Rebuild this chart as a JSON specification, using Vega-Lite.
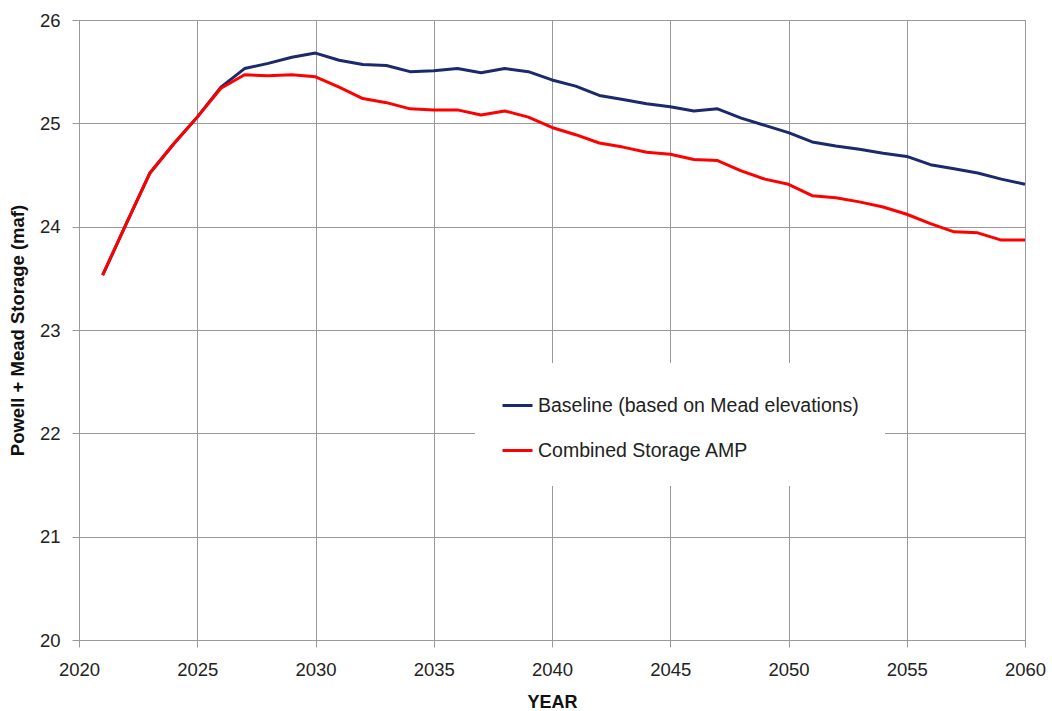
{
  "$schema": "https://vega.github.io/schema/vega-lite/v6.json",
  "width": 946,
  "height": 620,
  "autosize": "none",
  "padding": {"left": 79, "top": 20, "right": 27, "bottom": 71},
  "background": "white",
  "config": {
    "view": {"stroke": "#999999", "strokeWidth": 1},
    "font": "Liberation Sans"
  },
  "data": {
    "values": [
      {"year": 2021, "series": "Baseline (based on Mead elevations)", "storage": 23.53},
      {"year": 2022, "series": "Baseline (based on Mead elevations)", "storage": 24.03},
      {"year": 2023, "series": "Baseline (based on Mead elevations)", "storage": 24.52},
      {"year": 2024, "series": "Baseline (based on Mead elevations)", "storage": 24.80},
      {"year": 2025, "series": "Baseline (based on Mead elevations)", "storage": 25.06},
      {"year": 2026, "series": "Baseline (based on Mead elevations)", "storage": 25.35},
      {"year": 2027, "series": "Baseline (based on Mead elevations)", "storage": 25.53},
      {"year": 2028, "series": "Baseline (based on Mead elevations)", "storage": 25.58},
      {"year": 2029, "series": "Baseline (based on Mead elevations)", "storage": 25.64},
      {"year": 2030, "series": "Baseline (based on Mead elevations)", "storage": 25.68},
      {"year": 2031, "series": "Baseline (based on Mead elevations)", "storage": 25.61},
      {"year": 2032, "series": "Baseline (based on Mead elevations)", "storage": 25.57},
      {"year": 2033, "series": "Baseline (based on Mead elevations)", "storage": 25.56},
      {"year": 2034, "series": "Baseline (based on Mead elevations)", "storage": 25.50},
      {"year": 2035, "series": "Baseline (based on Mead elevations)", "storage": 25.51},
      {"year": 2036, "series": "Baseline (based on Mead elevations)", "storage": 25.53},
      {"year": 2037, "series": "Baseline (based on Mead elevations)", "storage": 25.49},
      {"year": 2038, "series": "Baseline (based on Mead elevations)", "storage": 25.53},
      {"year": 2039, "series": "Baseline (based on Mead elevations)", "storage": 25.50},
      {"year": 2040, "series": "Baseline (based on Mead elevations)", "storage": 25.42},
      {"year": 2041, "series": "Baseline (based on Mead elevations)", "storage": 25.36},
      {"year": 2042, "series": "Baseline (based on Mead elevations)", "storage": 25.27},
      {"year": 2043, "series": "Baseline (based on Mead elevations)", "storage": 25.23},
      {"year": 2044, "series": "Baseline (based on Mead elevations)", "storage": 25.19},
      {"year": 2045, "series": "Baseline (based on Mead elevations)", "storage": 25.16},
      {"year": 2046, "series": "Baseline (based on Mead elevations)", "storage": 25.12},
      {"year": 2047, "series": "Baseline (based on Mead elevations)", "storage": 25.14},
      {"year": 2048, "series": "Baseline (based on Mead elevations)", "storage": 25.05},
      {"year": 2049, "series": "Baseline (based on Mead elevations)", "storage": 24.98},
      {"year": 2050, "series": "Baseline (based on Mead elevations)", "storage": 24.91},
      {"year": 2051, "series": "Baseline (based on Mead elevations)", "storage": 24.82},
      {"year": 2052, "series": "Baseline (based on Mead elevations)", "storage": 24.78},
      {"year": 2053, "series": "Baseline (based on Mead elevations)", "storage": 24.75},
      {"year": 2054, "series": "Baseline (based on Mead elevations)", "storage": 24.71},
      {"year": 2055, "series": "Baseline (based on Mead elevations)", "storage": 24.68},
      {"year": 2056, "series": "Baseline (based on Mead elevations)", "storage": 24.60},
      {"year": 2057, "series": "Baseline (based on Mead elevations)", "storage": 24.56},
      {"year": 2058, "series": "Baseline (based on Mead elevations)", "storage": 24.52},
      {"year": 2059, "series": "Baseline (based on Mead elevations)", "storage": 24.46},
      {"year": 2060, "series": "Baseline (based on Mead elevations)", "storage": 24.41},
      {"year": 2021, "series": "Combined Storage AMP", "storage": 23.53},
      {"year": 2022, "series": "Combined Storage AMP", "storage": 24.03},
      {"year": 2023, "series": "Combined Storage AMP", "storage": 24.52},
      {"year": 2024, "series": "Combined Storage AMP", "storage": 24.80},
      {"year": 2025, "series": "Combined Storage AMP", "storage": 25.06},
      {"year": 2026, "series": "Combined Storage AMP", "storage": 25.34},
      {"year": 2027, "series": "Combined Storage AMP", "storage": 25.47},
      {"year": 2028, "series": "Combined Storage AMP", "storage": 25.46},
      {"year": 2029, "series": "Combined Storage AMP", "storage": 25.47},
      {"year": 2030, "series": "Combined Storage AMP", "storage": 25.45},
      {"year": 2031, "series": "Combined Storage AMP", "storage": 25.35},
      {"year": 2032, "series": "Combined Storage AMP", "storage": 25.24},
      {"year": 2033, "series": "Combined Storage AMP", "storage": 25.20},
      {"year": 2034, "series": "Combined Storage AMP", "storage": 25.14},
      {"year": 2035, "series": "Combined Storage AMP", "storage": 25.13},
      {"year": 2036, "series": "Combined Storage AMP", "storage": 25.13},
      {"year": 2037, "series": "Combined Storage AMP", "storage": 25.08},
      {"year": 2038, "series": "Combined Storage AMP", "storage": 25.12},
      {"year": 2039, "series": "Combined Storage AMP", "storage": 25.06},
      {"year": 2040, "series": "Combined Storage AMP", "storage": 24.96},
      {"year": 2041, "series": "Combined Storage AMP", "storage": 24.89},
      {"year": 2042, "series": "Combined Storage AMP", "storage": 24.81},
      {"year": 2043, "series": "Combined Storage AMP", "storage": 24.77},
      {"year": 2044, "series": "Combined Storage AMP", "storage": 24.72},
      {"year": 2045, "series": "Combined Storage AMP", "storage": 24.70},
      {"year": 2046, "series": "Combined Storage AMP", "storage": 24.65},
      {"year": 2047, "series": "Combined Storage AMP", "storage": 24.64},
      {"year": 2048, "series": "Combined Storage AMP", "storage": 24.54},
      {"year": 2049, "series": "Combined Storage AMP", "storage": 24.46},
      {"year": 2050, "series": "Combined Storage AMP", "storage": 24.41},
      {"year": 2051, "series": "Combined Storage AMP", "storage": 24.30},
      {"year": 2052, "series": "Combined Storage AMP", "storage": 24.28},
      {"year": 2053, "series": "Combined Storage AMP", "storage": 24.24},
      {"year": 2054, "series": "Combined Storage AMP", "storage": 24.19},
      {"year": 2055, "series": "Combined Storage AMP", "storage": 24.12},
      {"year": 2056, "series": "Combined Storage AMP", "storage": 24.03},
      {"year": 2057, "series": "Combined Storage AMP", "storage": 23.95},
      {"year": 2058, "series": "Combined Storage AMP", "storage": 23.94},
      {"year": 2059, "series": "Combined Storage AMP", "storage": 23.87},
      {"year": 2060, "series": "Combined Storage AMP", "storage": 23.87}
    ]
  },
  "mark": {"type": "line", "strokeWidth": 3, "strokeJoin": "round"},
  "encoding": {
    "x": {
      "field": "year",
      "type": "quantitative",
      "scale": {"domain": [2020, 2060], "nice": false, "zero": false},
      "axis": {
        "title": "YEAR",
        "values": [2020, 2025, 2030, 2035, 2040, 2045, 2050, 2055, 2060],
        "format": "d",
        "grid": true,
        "gridColor": "#999999",
        "gridOpacity": 1,
        "domainColor": "#999999",
        "tickColor": "#999999",
        "tickSize": 7,
        "labelFontSize": 18.5,
        "labelColor": "#222222",
        "labelPadding": 13,
        "labelFlush": false,
        "titleFontSize": 18,
        "titleFontWeight": "bold",
        "titleColor": "#111111",
        "titlePadding": 15
      }
    },
    "y": {
      "field": "storage",
      "type": "quantitative",
      "scale": {"domain": [20, 26], "nice": false, "zero": false},
      "axis": {
        "title": "Powell + Mead Storage (maf)",
        "values": [20, 21, 22, 23, 24, 25, 26],
        "grid": true,
        "gridColor": "#999999",
        "gridOpacity": 1,
        "domainColor": "#999999",
        "tickColor": "#999999",
        "tickSize": 7,
        "labelFontSize": 18.5,
        "labelColor": "#222222",
        "labelPadding": 12,
        "labelFlush": false,
        "titleFontSize": 18.5,
        "titleFontWeight": "bold",
        "titleColor": "#111111",
        "titlePadding": 12
      }
    },
    "color": {
      "field": "series",
      "type": "nominal",
      "scale": {
        "domain": ["Baseline (based on Mead elevations)", "Combined Storage AMP"],
        "range": ["#1a2a6c", "#ff0000"]
      },
      "legend": {
        "title": null,
        "orient": "none",
        "legendX": 396,
        "legendY": 343,
        "padding": 26,
        "fillColor": "white",
        "symbolType": "stroke",
        "symbolSize": 900,
        "symbolStrokeWidth": 3,
        "labelFontSize": 19.5,
        "labelColor": "#222222",
        "labelOffset": 4,
        "rowPadding": 19,
        "labelLimit": 500
      }
    }
  }
}
